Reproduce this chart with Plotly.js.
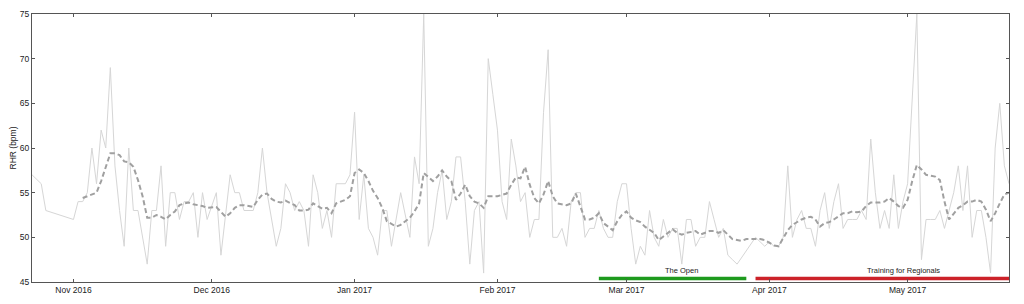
<!DOCTYPE html>
<html>
<head>
<meta charset="utf-8">
<script src="https://cdn.plot.ly/plotly-3.0.1.min.js"></script>
<style>html,body{margin:0;padding:0;background:#fff;}#chart{width:1024px;height:304px;}</style>
</head>
<body>
<div id="chart"></div>
<script>
// Daily resting heart rate (bpm)
const rawDates = [
'2016-10-23','2016-10-25','2016-10-26','2016-11-01','2016-11-02','2016-11-03','2016-11-04','2016-11-05','2016-11-06','2016-11-07',
'2016-11-08','2016-11-09','2016-11-10','2016-11-11','2016-11-12','2016-11-13','2016-11-14','2016-11-15','2016-11-17','2016-11-18',
'2016-11-19','2016-11-20','2016-11-21','2016-11-22','2016-11-23','2016-11-24','2016-11-25','2016-11-26','2016-11-27','2016-11-28',
'2016-11-29','2016-11-30','2016-12-02','2016-12-03','2016-12-05','2016-12-06','2016-12-07','2016-12-08','2016-12-10','2016-12-11',
'2016-12-12','2016-12-13','2016-12-15','2016-12-16','2016-12-17','2016-12-18','2016-12-19','2016-12-20','2016-12-21','2016-12-22',
'2016-12-23','2016-12-24','2016-12-25','2016-12-26','2016-12-27','2016-12-28','2016-12-30','2016-12-31','2017-01-01','2017-01-02',
'2017-01-03','2017-01-04','2017-01-05','2017-01-06','2017-01-07','2017-01-08','2017-01-09','2017-01-11','2017-01-13','2017-01-14',
'2017-01-15','2017-01-16','2017-01-17','2017-01-18','2017-01-19','2017-01-20','2017-01-21','2017-01-22','2017-01-23','2017-01-24',
'2017-01-25','2017-01-26','2017-01-27','2017-01-28','2017-01-29','2017-01-30','2017-01-31','2017-02-01','2017-02-02','2017-02-03',
'2017-02-04','2017-02-05','2017-02-06','2017-02-07','2017-02-08','2017-02-09','2017-02-10','2017-02-11','2017-02-12','2017-02-13',
'2017-02-14','2017-02-15','2017-02-16','2017-02-17','2017-02-18','2017-02-19','2017-02-20','2017-02-21','2017-02-22','2017-02-23',
'2017-02-24','2017-02-25','2017-02-26','2017-02-27','2017-02-28','2017-03-01','2017-03-02','2017-03-03','2017-03-04','2017-03-05',
'2017-03-06','2017-03-07','2017-03-08','2017-03-09','2017-03-10','2017-03-11','2017-03-12','2017-03-13','2017-03-14','2017-03-15',
'2017-03-16','2017-03-17','2017-03-18','2017-03-19','2017-03-20','2017-03-21','2017-03-22','2017-03-23','2017-03-24','2017-03-25',
'2017-03-29','2017-03-30','2017-03-31','2017-04-01','2017-04-02','2017-04-03','2017-04-04','2017-04-05','2017-04-06','2017-04-07',
'2017-04-08','2017-04-09','2017-04-10','2017-04-11','2017-04-12','2017-04-13','2017-04-14','2017-04-15','2017-04-16','2017-04-17',
'2017-04-18','2017-04-19','2017-04-20','2017-04-21','2017-04-22','2017-04-23','2017-04-24','2017-04-25','2017-04-26','2017-04-27',
'2017-04-28','2017-04-29','2017-04-30','2017-05-01','2017-05-03','2017-05-04','2017-05-05','2017-05-06','2017-05-07','2017-05-08',
'2017-05-09','2017-05-10','2017-05-11','2017-05-12','2017-05-13','2017-05-14','2017-05-15','2017-05-16','2017-05-17','2017-05-18',
'2017-05-19','2017-05-20','2017-05-21','2017-05-22','2017-05-23'
];
const rawRHR = [
57,56,53,52,54,54,55,60,56,62,
60,69,58,53,49,60,53,53,47,53,
53,58,49,55,55,52,54,54,55,50,
55,52,55,48,57,55,55,53,53,55,
60,55,49,51,56,55,53,54,53,49,
57,55,51,53,50,56,56,57,64,52,
57,51,50,48,53,53,49,55,50,59,
56,75,49,51,55,57.5,52,54,59,59,
54,47,53,54,46,70,66,62,54,52,
61,58,54,55,50,52,52,64,71,50,
50,51,49,54,55,55,50,51,51,53,
51,50,50,54,56,56,51,47,49,48,
53,50,49,52,50,51,51,47,52,52,
49,50,50,54,52,50,51,48,47.5,47,
50,49.5,49,49.5,49,49,50,58,50,52,
53,51,51,49,53,55,51,54,56,51,
52,52,52,53,52,61,55,51,53,51,
57,51,54,56,75,47.5,52,52,52,53,
51,53,55,58,53,58,50,53,53,50,
46,60,65,58,56
];

// Moving average (dashed)
const maDates = [
'2016-11-03','2016-11-05','2016-11-06','2016-11-07','2016-11-09','2016-11-10','2016-11-11','2016-11-12','2016-11-13','2016-11-14',
'2016-11-15','2016-11-16','2016-11-17','2016-11-18','2016-11-19','2016-11-20','2016-11-21','2016-11-22','2016-11-23','2016-11-24',
'2016-11-25','2016-11-26','2016-11-27','2016-11-29','2016-11-30','2016-12-02','2016-12-03','2016-12-04','2016-12-05','2016-12-06',
'2016-12-07','2016-12-08','2016-12-10','2016-12-11','2016-12-12','2016-12-13','2016-12-14','2016-12-15','2016-12-16','2016-12-17',
'2016-12-19','2016-12-20','2016-12-21','2016-12-22','2016-12-23','2016-12-24','2016-12-25','2016-12-26','2016-12-27','2016-12-28',
'2016-12-30','2016-12-31','2017-01-01','2017-01-02','2017-01-03','2017-01-04','2017-01-05','2017-01-06','2017-01-07','2017-01-08',
'2017-01-10','2017-01-11','2017-01-12','2017-01-13','2017-01-14','2017-01-15','2017-01-16','2017-01-17','2017-01-18','2017-01-19',
'2017-01-20','2017-01-21','2017-01-22','2017-01-23','2017-01-24','2017-01-25','2017-01-26','2017-01-27','2017-01-28','2017-01-29',
'2017-01-30','2017-01-31','2017-02-01','2017-02-03','2017-02-04','2017-02-05','2017-02-06','2017-02-07','2017-02-08','2017-02-09',
'2017-02-10','2017-02-11','2017-02-12','2017-02-13','2017-02-14','2017-02-16','2017-02-17','2017-02-18','2017-02-19','2017-02-20',
'2017-02-21','2017-02-22','2017-02-23','2017-02-24','2017-02-26','2017-02-27','2017-02-28','2017-03-01','2017-03-02','2017-03-03',
'2017-03-04','2017-03-05','2017-03-07','2017-03-08','2017-03-09','2017-03-10','2017-03-11','2017-03-12','2017-03-13','2017-03-14',
'2017-03-16','2017-03-17','2017-03-18','2017-03-19','2017-03-20','2017-03-21','2017-03-22','2017-03-23','2017-03-24','2017-03-26',
'2017-03-27','2017-03-28','2017-03-29','2017-03-30','2017-03-31','2017-04-01','2017-04-02','2017-04-03','2017-04-04','2017-04-05',
'2017-04-06','2017-04-08','2017-04-09','2017-04-10','2017-04-11','2017-04-12','2017-04-13','2017-04-14','2017-04-15','2017-04-16',
'2017-04-17','2017-04-18','2017-04-19','2017-04-20','2017-04-21','2017-04-22','2017-04-23','2017-04-24','2017-04-25','2017-04-26',
'2017-04-27','2017-04-28','2017-04-29','2017-04-30','2017-05-01','2017-05-02','2017-05-03','2017-05-04','2017-05-05','2017-05-06',
'2017-05-07','2017-05-08','2017-05-09','2017-05-10','2017-05-11','2017-05-12','2017-05-13','2017-05-14','2017-05-15','2017-05-16',
'2017-05-17','2017-05-18','2017-05-19','2017-05-20','2017-05-21','2017-05-22','2017-05-23'
];
const maRHR = [
54.4,54.8,55.0,56.3,59.4,59.4,59.2,58.5,58.4,57.9,
56.4,54.6,52.2,52.2,52.5,52.3,52.0,52.5,52.9,53.6,
53.8,53.9,53.7,53.5,53.3,53.4,52.9,52.3,52.7,53.3,
53.6,53.6,53.4,54.2,54.8,54.9,54.3,54.0,53.9,54.1,
53.6,53.0,53.0,53.1,53.8,53.5,53.2,53.3,52.7,53.8,
54.2,54.6,57.2,57.6,57.2,56.3,55.2,54.4,53.3,51.8,
51.2,51.4,51.8,52.2,52.9,53.8,57.2,56.8,56.3,56.8,
57.5,56.8,56.3,54.2,54.9,55.9,54.6,54.0,53.8,53.3,
54.6,54.6,54.6,54.9,55.9,56.7,56.6,57.9,55.9,54.4,
53.8,54.8,56.3,54.6,53.8,53.6,53.8,54.9,53.5,52.0,
52.0,52.2,52.7,51.6,50.8,51.8,52.5,52.9,52.2,51.9,
51.7,51.2,50.5,49.7,50.1,50.5,50.9,50.5,50.3,50.5,
50.7,50.3,50.5,50.7,50.7,50.5,50.8,50.3,49.8,49.6,
49.8,49.8,49.8,49.8,49.7,49.4,49.1,49.0,49.9,50.8,
51.4,52.0,52.2,52.3,52.0,51.2,51.6,51.7,52.0,52.4,
52.7,52.7,52.9,52.8,52.9,53.5,53.9,53.9,53.9,54.0,
54.4,54.0,53.5,53.3,54.2,56.3,58.1,57.6,57.0,56.9,
56.8,56.4,54.0,52.0,52.7,53.3,53.6,54.0,54.0,54.2,
54.0,53.1,51.8,52.7,53.8,54.8,55.0
];

// Training phases
const phaseNames = ['The Open', 'Training for Regionals'];
const phaseStart = ['2017-02-23', '2017-03-29'];
const phaseEnd = ['2017-03-27', '2017-05-23'];
const phaseLabelAt = ['2017-03-13', '2017-04-30'];
const phaseColors = ['#1e9a1e', '#cc2229'];

const PHASE_Y = 45.4;
const FONT = 'Arial, "Liberation Sans", Helvetica, sans-serif';

const traces = [
  {x: rawDates, y: rawRHR, type: 'scatter', mode: 'lines',
   line: {color: '#d6d6d6', width: 1}, hoverinfo: 'skip'},
  {x: maDates, y: maRHR, type: 'scatter', mode: 'lines',
   line: {color: '#a0a0a0', width: 2, dash: '5px,3px'}, hoverinfo: 'skip'}
];
phaseNames.forEach((n, i) => {
  traces.push({x: [phaseStart[i], phaseEnd[i]], y: [PHASE_Y, PHASE_Y],
    type: 'scatter', mode: 'lines', line: {color: phaseColors[i], width: 3.5},
    hoverinfo: 'skip'});
});

const annotations = phaseNames.map((n, i) => ({
  x: phaseLabelAt[i], y: PHASE_Y, xref: 'x', yref: 'y', text: n,
  showarrow: false, yanchor: 'bottom', xanchor: 'center', yshift: 1,
  font: {family: FONT, size: 7.5, color: '#222'}
}));

const layout = {
  width: 1024, height: 304,
  margin: {l: 32, r: 15, t: 14, b: 22},
  paper_bgcolor: '#fff', plot_bgcolor: '#fff',
  showlegend: false,
  font: {family: FONT, size: 8.5, color: '#222'},
  xaxis: {
    type: 'date', range: ['2016-10-23', '2017-05-23'],
    tick0: '2016-11-01', dtick: 'M1', tickformat: '%b %Y',
    showgrid: false, zeroline: false,
    showline: true, linecolor: '#555', linewidth: 1, mirror: 'ticks',
    ticks: 'inside', ticklen: 3, tickcolor: '#555',
    tickfont: {family: FONT, size: 8.5, color: '#222'}
  },
  yaxis: {
    range: [45, 75], dtick: 5, tick0: 45,
    showgrid: false, zeroline: false,
    showline: true, linecolor: '#555', linewidth: 1, mirror: 'ticks',
    ticks: 'inside', ticklen: 3, tickcolor: '#555',
    tickfont: {family: FONT, size: 8.5, color: '#222'},
    title: {text: 'RHR (bpm)', font: {family: FONT, size: 8.5, color: '#222'}, standoff: 1}
  },
  annotations: annotations
};

Plotly.newPlot('chart', traces, layout, {displayModeBar: false, staticPlot: true});
</script>
</body>
</html>
